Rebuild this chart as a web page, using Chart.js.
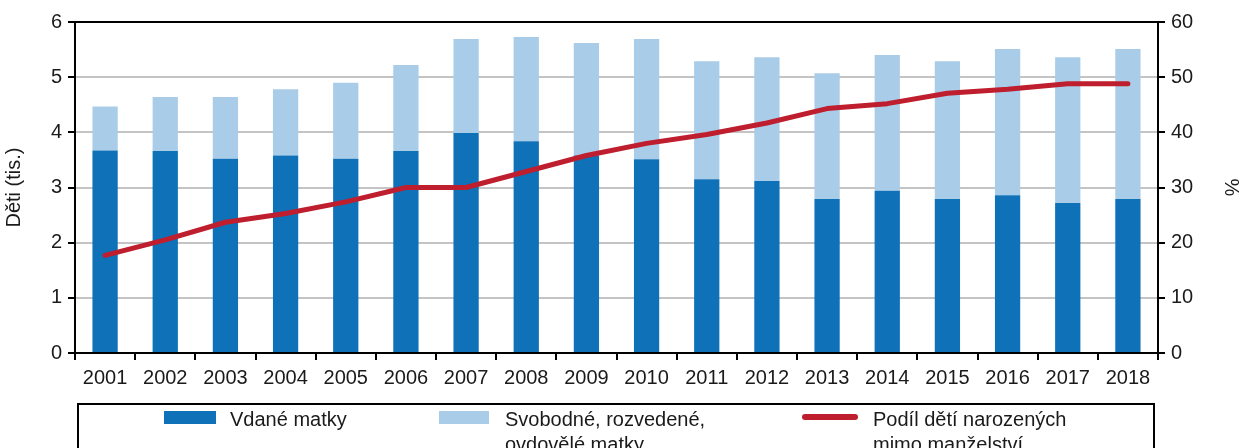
<!DOCTYPE html>
<html>
<head>
<meta charset="utf-8">
<script src="https://cdn.jsdelivr.net/npm/chart.js@4"></script>
<style>
  body { margin: 0; width: 1245px; height: 448px; overflow: hidden; background: #fff; font-family: "Liberation Sans", Arial, sans-serif; }
  #wrap { position: relative; width: 1245px; height: 448px; }
  #legend { position: absolute; left: 77px; top: 403px; width: 1078px; height: 60px; border: 2px solid #000; box-sizing: border-box; }
  .item { position: absolute; top: 2px; font-size: 20px; line-height: 25px; color: #1a1a1a; }
  .sw { position: absolute; }
</style>
</head>
<body>
<div id="wrap">
  <canvas id="myChart" width="1245" height="448"></canvas>
  <div id="legend">
    <div class="sw" style="left:85px;top:6px;width:52px;height:13px;background:#0f71b8"></div>
    <div class="item" style="left:151px">Vdané matky</div>
    <div class="sw" style="left:360px;top:6px;width:50px;height:13px;background:#a9cde8"></div>
    <div class="item" style="left:426px">Svobodné, rozvedené,<br>ovdovělé matky</div>
    <div class="sw" style="left:723px;top:9px;width:56px;height:6px;border-radius:3px;background:#be1e2d"></div>
    <div class="item" style="left:794px">Podíl dětí narozených<br>mimo manželství</div>
  </div>
</div>
<script>
// data
const years = ["2001","2002","2003","2004","2005","2006","2007","2008","2009","2010","2011","2012","2013","2014","2015","2016","2017","2018"];
const married = [3.67, 3.66, 3.52, 3.58, 3.52, 3.66, 3.99, 3.84, 3.58, 3.51, 3.15, 3.12, 2.79, 2.94, 2.79, 2.86, 2.72, 2.79];
const unmarried = [0.80, 0.98, 1.12, 1.20, 1.38, 1.56, 1.70, 1.89, 2.04, 2.18, 2.14, 2.24, 2.28, 2.46, 2.50, 2.65, 2.64, 2.72];
const sharePct = [17.7, 20.5, 23.7, 25.3, 27.4, 30.0, 30.0, 32.9, 35.8, 38.0, 39.6, 41.7, 44.3, 45.2, 47.1, 47.8, 48.8, 48.8];
const leftTicks = [0, 1, 2, 3, 4, 5, 6];
const rightTicks = [0, 10, 20, 30, 40, 50, 60];

const tickFont = { family: "Liberation Sans", size: 20 };

const config = {
  type: "bar",
  data: {
    labels: years,
    datasets: [
      {
        type: "line",
        label: "Podíl dětí narozených mimo manželství",
        data: sharePct,
        yAxisID: "y2",
        borderColor: "#be1e2d",
        borderWidth: 5,
        pointRadius: 0,
        borderCapStyle: "round",
        borderJoinStyle: "round",
        tension: 0,
        order: 0,
      },
      {
        label: "Vdané matky",
        data: married,
        backgroundColor: "#0f71b8",
        yAxisID: "y",
        stack: "s",
        order: 1,
      },
      {
        label: "Svobodné, rozvedené, ovdovělé matky",
        data: unmarried,
        backgroundColor: "#a9cde8",
        yAxisID: "y",
        stack: "s",
        order: 1,
      },
    ],
  },
  options: {
    responsive: false,
    animation: false,
    layout: { padding: { top: 22, left: 0, right: 0, bottom: 0 } },
    datasets: { bar: { categoryPercentage: 1, barPercentage: 0.42 } },
    scales: {
      x: {
        stacked: true,
        afterFit: (s) => { s.height = 95; },
        grid: { offset: true, drawOnChartArea: false, tickLength: 7, color: "#000", lineWidth: 2 },
        border: { color: "#000", width: 2 },
        ticks: { color: "#1a1a1a", font: tickFont, padding: 6, maxRotation: 0, autoSkip: false },
      },
      y: {
        stacked: true,
        position: "left",
        min: 0,
        max: 6,
        afterFit: (s) => { s.width = 75; },
        afterBuildTicks: (s) => { s.ticks = leftTicks.map((v) => ({ value: v })); },
        grid: {
          color: (c) => (c.tick && (c.tick.value === 6) ? "#000" : c.tick && c.tick.value === 0 ? "#000" : "#c4c4c4"),
          lineWidth: 2,
          tickColor: "#000",
          tickLength: 7,
        },
        border: { color: "#000", width: 2 },
        ticks: { color: "#1a1a1a", font: tickFont, padding: 6 },
        title: { display: true, text: "Děti (tis.)", color: "#1a1a1a", font: tickFont, padding: { top: 2, bottom: 0 } },
      },
      y2: {
        position: "right",
        min: 0,
        max: 60,
        afterFit: (s) => { s.width = 87; },
        afterBuildTicks: (s) => { s.ticks = rightTicks.map((v) => ({ value: v })); },
        grid: { drawOnChartArea: false, tickColor: "#000", tickLength: 7, lineWidth: 2 },
        border: { color: "#000", width: 2 },
        ticks: { color: "#1a1a1a", font: tickFont, padding: 6 },
        title: { display: true, text: "%", color: "#1a1a1a", font: tickFont, padding: { top: 2, bottom: 0 } },
      },
    },
    plugins: {
      legend: { display: false },
      tooltip: { enabled: false },
    },
  },
};
const myChart = new Chart(document.getElementById("myChart"), config);
</script>
</body>
</html>
